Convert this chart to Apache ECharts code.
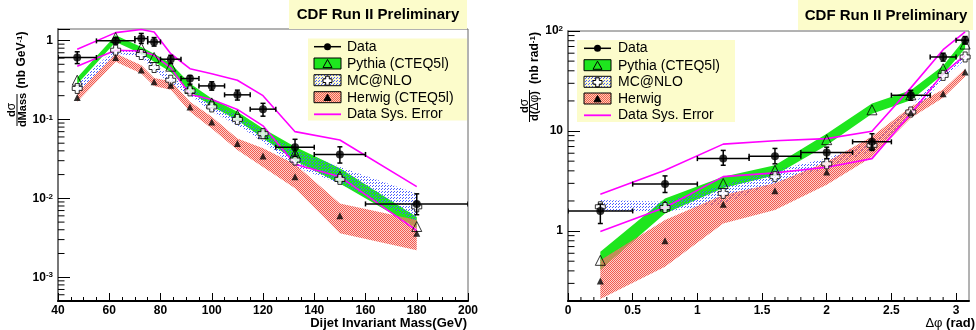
<!DOCTYPE html>
<html>
<head>
<meta charset="utf-8">
<script src="https://cdn.jsdelivr.net/npm/echarts@6/dist/echarts.min.js"></script>
<style>
  html, body { margin: 0; padding: 0; background: #fff; }
  #chart { width: 976px; height: 330px; }
</style>
</head>
<body>
<div id="chart"></div>
<script>
// ---------- Dijet invariant mass spectrum (left panel) ----------
const massBinCenters   = [47.5, 62.5, 72.5, 77.5, 84, 91.5, 100, 110, 120, 132.5, 150, 180];
const massBinLow       = [40, 55, 70, 75, 80, 88, 95, 105, 115, 125, 140, 160];
const massBinHigh      = [55, 70, 75, 80, 88, 95, 105, 115, 125, 140, 160, 200];
const massData         = [0.61, 0.99, 1.06, 0.96, 0.58, 0.33, 0.266, 0.205, 0.135, 0.0445, 0.036, 0.0085];
const massDataErrLow   = [0.51, 0.90, 0.92, 0.85, 0.51, 0.28, 0.235, 0.176, 0.11, 0.034, 0.028, 0.0062];
const massDataErrHigh  = [0.72, 1.09, 1.23, 1.09, 0.65, 0.36, 0.30, 0.235, 0.16, 0.056, 0.045, 0.0114];
const massSysHigh      = [0.776, 1.26, 1.38, 1.28, 0.68, 0.44, 0.38, 0.314, 0.2, 0.07, 0.0548, 0.0141];
const massSysLow       = [0.473, 0.754, 0.738, 0.65, 0.45, 0.207, 0.179, 0.134, 0.083, 0.027, 0.0188, 0.0039];
const massPythia       = [0.314, 1.09, 0.806, 0.61, 0.473, 0.247, 0.162, 0.113, 0.066, 0.037, 0.019, 0.0044];
const massPythiaLow    = [0.28, 0.96, 0.68, 0.54, 0.40, 0.224, 0.147, 0.098, 0.058, 0.030, 0.0154, 0.0042];
const massPythiaHigh   = [0.34, 1.17, 0.83, 0.68, 0.51, 0.286, 0.184, 0.125, 0.077, 0.045, 0.024, 0.0058];
const massMcnlo        = [0.247, 0.754, 0.665, 0.455, 0.314, 0.23, 0.144, 0.1, 0.066, 0.0306, 0.0174, 0.0078];
const massMcnloLow     = [0.213, 0.685, 0.62, 0.42, 0.286, 0.203, 0.125, 0.085, 0.052, 0.025, 0.0154, 0.0051];
const massMcnloHigh    = [0.286, 0.79, 0.72, 0.51, 0.346, 0.26, 0.16, 0.113, 0.072, 0.041, 0.025, 0.0115];
const massHerwig       = [0.19, 0.61, 0.424, 0.30, 0.272, 0.144, 0.0925, 0.0495, 0.0343, 0.0188, 0.006, 0.0036];
const massHerwigLow    = [0.167, 0.54, 0.382, 0.265, 0.237, 0.125, 0.077, 0.041, 0.025, 0.0134, 0.0036, 0.0022];
const massHerwigHigh   = [0.213, 0.685, 0.486, 0.335, 0.305, 0.167, 0.108, 0.0575, 0.043, 0.027, 0.0086, 0.0053];

// ---------- Azimuthal decorrelation (right panel) ----------
const dphiBinCenters   = [0.25, 0.75, 1.2, 1.6, 2.0, 2.35, 2.65, 2.9, 3.07];
const dphiBinLow       = [0, 0.5, 1.0, 1.4, 1.8, 2.2, 2.5, 2.8, 3.0];
const dphiBinHigh      = [0.5, 1.0, 1.4, 1.8, 2.2, 2.5, 2.8, 3.0, 3.1416];
const dphiData         = [1.59, 2.95, 5.3, 5.6, 6.1, 7.8, 22.8, 55, 81];
const dphiDataErrLow   = [1.19, 2.43, 4.55, 4.7, 5.3, 6.4, 20.3, 50, 74];
const dphiDataErrHigh  = [1.86, 3.56, 6.4, 6.7, 6.9, 9.4, 25.5, 60, 88];
const dphiSysHigh      = [2.33, 4.06, 7.4, 8.0, 8.4, 9.95, 27, 65, 98];
const dphiSysLow       = [0.99, 1.72, 3.5, 3.82, 4.35, 5.3, 14.9, 37.5, 57];
const dphiPythia       = [0.51, 1.78, 2.99, 4.06, 8.2, 16.3, 23, 42, 74];
const dphiPythiaLow    = [0.41, 1.5, 2.7, 3.62, 7.2, 14.9, 20.3, 37, 67];
const dphiPythiaHigh   = [0.62, 2.12, 3.5, 4.55, 9.4, 18.8, 25.5, 45, 84];
const dphiMcnlo        = [1.75, 1.72, 2.38, 3.5, 4.7, 7.2, 15.5, 36, 55];
const dphiMcnloLow     = [1.56, 1.56, 1.89, 3.0, 4.25, 6.4, 14, 33, 52];
const dphiMcnloHigh    = [2.04, 1.96, 2.88, 4.06, 5.3, 8.0, 17, 39, 58];
const dphiHerwig       = [0.317, 0.80, 1.85, 2.53, 3.9, 7.0, 15.3, 23.6, 38.9];
const dphiHerwigLow    = [0.21, 0.44, 1.19, 1.62, 2.9, 5.5, 13.5, 21.5, 35];
const dphiHerwigHigh   = [0.51, 1.29, 2.29, 3.0, 4.9, 8.8, 17.5, 26, 42];

// Axis ranges
const massXRange = [40, 200];
const massYRange = [5e-4, 1.4];
const dphiXRange = [0, 3.1];
const dphiYRange = [0.2, 100];

const FONT = '"Liberation Sans", Arial, Helvetica, sans-serif';
const YELLOW = '#fcfccb';
const GREEN = '#1ee61e';
const MAGENTA = '#ff00ff';

// Fill patterns for the model bands
function makePattern(size, paint) {
  const c = document.createElement('canvas');
  c.width = c.height = size;
  paint(c.getContext('2d'));
  return { image: c, repeat: 'repeat' };
}
const redHatch = makePattern(2, g => {
  g.fillStyle = '#f35a50'; g.fillRect(0, 0, 1, 1); g.fillRect(1, 1, 1, 1);
  g.fillStyle = 'rgba(250,165,155,0.5)'; g.fillRect(1, 0, 1, 1); g.fillRect(0, 1, 1, 1);
});
const blueDots = makePattern(3, g => {
  g.fillStyle = '#4a5cff'; g.fillRect(0, 0, 1, 1); g.fillRect(1, 2, 1, 1);
});

const chart = echarts.init(document.getElementById('chart'), null, { renderer: 'canvas' });

function logLabel(v) {
  const l = Math.log10(v);
  const e = Math.round(l);
  if (Math.abs(l - e) > 1e-6) return '';
  if (e === 0) return '1';
  if (e === 1) return '10';
  return '{b|10}{s|' + e + '}';
}
const supRich = {
  b: { fontSize: 12, fontWeight: 'bold', fontFamily: FONT, color: '#000', verticalAlign: 'bottom' },
  s: { fontSize: 8, fontWeight: 'bold', fontFamily: FONT, color: '#000', verticalAlign: 'top' }
};

function yLogAxis(gridIndex, range) {
  return {
    type: 'log', logBase: 10, gridIndex, min: range[0], max: range[1],
    axisLine: { show: true, onZero: false, lineStyle: { color: '#777', width: 2 } },
    axisTick: { show: true, inside: true, length: 12, lineStyle: { color: '#000', width: 1 } },
    minorTick: { show: false },
    splitLine: { show: false },
    axisLabel: {
      formatter: logLabel, margin: 5, color: '#000',
      fontSize: 12, fontWeight: 'bold', fontFamily: FONT, rich: supRich
    }
  };
}

function xValueAxis(gridIndex, range, interval, minorSplit, fmt) {
  return {
    type: 'value', gridIndex, min: range[0], max: range[1], interval,
    axisLine: { show: true, onZero: false, lineStyle: { color: '#000', width: 2 } },
    axisTick: { show: true, inside: true, length: 8, lineStyle: { color: '#000', width: 1 } },
    minorTick: { show: minorSplit > 0, splitNumber: minorSplit || 5, length: 4, lineStyle: { color: '#000', width: 1 } },
    splitLine: { show: false },
    axisLabel: {
      margin: 4, color: '#000', fontSize: 12, fontWeight: 'bold', fontFamily: FONT,
      showMaxLabel: fmt ? false : true, formatter: fmt
    }
  };
}

// Model band drawn as a single polygon through the axis scales
function bandSeries(gi, xs, lo, hi, fill, z) {
  return {
    type: 'custom', xAxisIndex: gi, yAxisIndex: gi, z, silent: true, clip: true,
    data: [[xs[0], lo[0]]],
    renderItem(params, api) {
      const pts = [];
      for (let i = 0; i < xs.length; i++) pts.push(api.coord([xs[i], hi[i]]));
      for (let i = xs.length - 1; i >= 0; i--) pts.push(api.coord([xs[i], lo[i]]));
      return { type: 'polygon', shape: { points: pts }, style: { fill, stroke: null } };
    }
  };
}

function lineSeries(gi, xs, ys, z) {
  return {
    type: 'line', xAxisIndex: gi, yAxisIndex: gi, z, silent: true, symbol: 'none',
    data: xs.map((x, i) => [x, ys[i]]),
    lineStyle: { color: MAGENTA, width: 1.6 }
  };
}

function markerSeries(gi, xs, ys, symbol, size, itemStyle, z) {
  return {
    type: 'scatter', xAxisIndex: gi, yAxisIndex: gi, z, silent: true,
    symbol, symbolSize: size, itemStyle,
    data: xs.map((x, i) => [x, ys[i]])
  };
}

// Data points with horizontal bin-width bars and vertical error bars
function errorBarSeries(gi, xs, ys, xl, xh, yl, yh, z) {
  return {
    type: 'custom', xAxisIndex: gi, yAxisIndex: gi, z, silent: true, clip: true,
    data: xs.map((x, i) => [x, ys[i], xl[i], xh[i], yl[i], yh[i]]),
    renderItem(params, api) {
      const x = api.value(0), y = api.value(1);
      const l = api.coord([api.value(2), y]);
      const r = api.coord([api.value(3), y]);
      const b = api.coord([x, api.value(4)]);
      const t = api.coord([x, api.value(5)]);
      const st = { stroke: '#000', lineWidth: 1.5 };
      const cap = 2.5;
      const seg = (x1, y1, x2, y2) => ({ type: 'line', shape: { x1, y1, x2, y2 }, style: st });
      return {
        type: 'group',
        children: [
          seg(l[0], l[1], r[0], r[1]),
          seg(l[0], l[1] - cap, l[0], l[1] + cap),
          seg(r[0], r[1] - cap, r[0], r[1] + cap),
          seg(b[0], b[1], t[0], t[1]),
          seg(b[0] - cap, b[1], b[0] + cap, b[1]),
          seg(t[0] - cap, t[1], t[0] + cap, t[1])
        ]
      };
    }
  };
}

// Minor ticks at 2..9 x 10^k on a log axis, plus optional linear minor ticks on x
function minorTickSeries(gi, xRange, yRange, xMinorStep, xMajorEvery) {
  return {
    type: 'custom', xAxisIndex: gi, yAxisIndex: gi, z: 10, silent: true,
    data: [[xRange[0], yRange[0]]],
    renderItem(params, api) {
      const st = { stroke: '#000', lineWidth: 1 };
      const children = [];
      const k0 = Math.floor(Math.log10(yRange[0]));
      const k1 = Math.ceil(Math.log10(yRange[1]));
      for (let k = k0; k <= k1; k++) {
        for (let m = 2; m <= 9; m++) {
          const v = m * Math.pow(10, k);
          if (v <= yRange[0] || v >= yRange[1]) continue;
          const p = api.coord([xRange[0], v]);
          children.push({ type: 'line', shape: { x1: p[0], y1: p[1], x2: p[0] + 6.5, y2: p[1] }, style: st });
        }
      }
      if (xMinorStep) {
        const n = Math.floor((xRange[1] - xRange[0]) / xMinorStep + 1e-9);
        for (let i = 1; i < n; i++) {
          if (i % xMajorEvery === 0) continue;
          const p = api.coord([xRange[0] + i * xMinorStep, yRange[0]]);
          children.push({ type: 'line', shape: { x1: p[0], y1: p[1], x2: p[0], y2: p[1] - 4 }, style: st });
        }
      }
      return { type: 'group', children };
    }
  };
}

const openCross = 'path://M3,0 L7,0 L7,3 L10,3 L10,7 L7,7 L7,10 L3,10 L3,7 L0,7 L0,3 L3,3 Z';
const openTri = { color: 'rgba(0,0,0,0)', borderColor: '#000', borderWidth: 1 };
const crossStyle = { color: '#fff', borderColor: '#000', borderWidth: 1 };

function panelSeries(gi, s) {
  return [
    bandSeries(gi, s.x, s.pyLo, s.pyHi, GREEN, 1),
    bandSeries(gi, s.x, s.mcLo, s.mcHi, blueDots, 2),
    bandSeries(gi, s.x, s.hwLo, s.hwHi, redHatch, 3),
    lineSeries(gi, s.x, s.sysHi, 4),
    lineSeries(gi, s.x, s.sysLo, 4),
    markerSeries(gi, s.x, s.py, 'triangle', 10, openTri, 5),
    markerSeries(gi, s.x, s.mc, openCross, 10, crossStyle, 5),
    markerSeries(gi, s.x, s.hw, 'triangle', 7, { color: '#000' }, 5),
    errorBarSeries(gi, s.x, s.data, s.xl, s.xh, s.el, s.eh, 6),
    markerSeries(gi, s.x, s.data, 'circle', 8, { color: '#000' }, 7)
  ];
}

const series = [
  ...panelSeries(0, {
    x: massBinCenters, xl: massBinLow, xh: massBinHigh,
    data: massData, el: massDataErrLow, eh: massDataErrHigh,
    sysHi: massSysHigh, sysLo: massSysLow,
    py: massPythia, pyLo: massPythiaLow, pyHi: massPythiaHigh,
    mc: massMcnlo, mcLo: massMcnloLow, mcHi: massMcnloHigh,
    hw: massHerwig, hwLo: massHerwigLow, hwHi: massHerwigHigh
  }),
  ...panelSeries(1, {
    x: dphiBinCenters, xl: dphiBinLow, xh: dphiBinHigh,
    data: dphiData, el: dphiDataErrLow, eh: dphiDataErrHigh,
    sysHi: dphiSysHigh, sysLo: dphiSysLow,
    py: dphiPythia, pyLo: dphiPythiaLow, pyHi: dphiPythiaHigh,
    mc: dphiMcnlo, mcLo: dphiMcnloLow, mcHi: dphiMcnloHigh,
    hw: dphiHerwig, hwLo: dphiHerwigLow, hwHi: dphiHerwigHigh
  }),
  minorTickSeries(0, massXRange, massYRange, 0, 1),
  minorTickSeries(1, dphiXRange, dphiYRange, 0.1, 5)
];

// ---------- Annotations: titles, legends, axis titles ----------
const G = [];
function txt(x, y, text, opts) {
  G.push(Object.assign({
    type: 'text', x, y, silent: true, z: 100,
    style: Object.assign({
      text, fill: '#000', fontFamily: FONT, fontSize: 12, fontWeight: 'bold',
      align: 'center', verticalAlign: 'middle'
    }, opts && opts.style)
  }, opts && opts.el));
}
function rect(x, y, w, h, fill, stroke) {
  G.push({ type: 'rect', silent: true, z: 90, shape: { x, y, width: w, height: h },
    style: { fill, stroke: stroke || null, lineWidth: 1 } });
}
function seg(x1, y1, x2, y2, stroke, w) {
  G.push({ type: 'line', silent: true, z: 95, shape: { x1, y1, x2, y2 }, style: { stroke, lineWidth: w } });
}
function tri(cx, cy, r, fill) {
  G.push({ type: 'polygon', silent: true, z: 96,
    shape: { points: [[cx, cy - r], [cx + r, cy + r * 0.8], [cx - r, cy + r * 0.8]] },
    style: { fill, stroke: '#000', lineWidth: 1 } });
}
function cross(cx, cy, r) {
  const a = r * 0.4;
  G.push({ type: 'polygon', silent: true, z: 96,
    shape: { points: [[cx - a, cy - r], [cx + a, cy - r], [cx + a, cy - a], [cx + r, cy - a], [cx + r, cy + a],
      [cx + a, cy + a], [cx + a, cy + r], [cx - a, cy + r], [cx - a, cy + a], [cx - r, cy + a], [cx - r, cy - a], [cx - a, cy - a]] },
    style: { fill: '#fff', stroke: '#000', lineWidth: 1 } });
}

// Title boxes
rect(289, 0, 178, 29, YELLOW);
txt(378, 15, 'CDF Run II Preliminary', { style: { fontSize: 15 } });
rect(798, 0, 175, 30, YELLOW);
txt(886, 15.5, 'CDF Run II Preliminary', { style: { fontSize: 15 } });

// Legends
function legend(bx, by, bw, bh, sx0, sx1, tx, rows, lastLabel) {
  rect(bx, by, bw, bh, YELLOW);
  const sc = (sx0 + sx1) / 2;
  const labels = ['Data', 'Pythia (CTEQ5l)', 'MC@NLO', lastLabel, 'Data Sys. Error'];
  // Data
  seg(sx0, rows[0], sx1, rows[0], '#000', 1.5);
  G.push({ type: 'circle', silent: true, z: 96, shape: { cx: sc, cy: rows[0], r: 3.5 }, style: { fill: '#000' } });
  // Pythia
  G.push({ type: 'rect', silent: true, z: 95, shape: { x: sx0, y: rows[1] - 6, width: sx1 - sx0, height: 11 },
    style: { fill: GREEN, stroke: '#000', lineWidth: 1 } });
  tri(sc, rows[1], 4.5, 'rgba(0,0,0,0)');
  // MC@NLO
  G.push({ type: 'rect', silent: true, z: 95, shape: { x: sx0, y: rows[2] - 6, width: sx1 - sx0, height: 11 },
    style: { fill: blueDots, stroke: '#000', lineWidth: 1 } });
  cross(sc, rows[2], 4.5);
  // Herwig
  G.push({ type: 'rect', silent: true, z: 95, shape: { x: sx0, y: rows[3] - 6, width: sx1 - sx0, height: 11 },
    style: { fill: redHatch, stroke: '#000', lineWidth: 1 } });
  tri(sc, rows[3], 3.5, '#000');
  // Systematics
  seg(sx0, rows[4], sx1, rows[4], MAGENTA, 1.8);
  labels.forEach((t, i) => txt(tx, rows[i], t, { style: { fontSize: 14, fontWeight: 'normal', align: 'left' } }));
}
legend(308, 38.5, 159, 82, 314, 341, 347, [46.7, 64, 80.7, 97.7, 114.3], 'Herwig (CTEQ5l)');
legend(577, 40, 158, 82, 584, 611, 618, [48.3, 65.7, 82.3, 99, 115.3], 'Herwig');

// Y-axis titles (rotated, fraction form)
const supTitle = { s: { fontSize: 8, fontWeight: 'bold', fontFamily: FONT, verticalAlign: 'top', fill: '#000' },
                   n: { fontSize: 12, fontWeight: 'bold', fontFamily: FONT, verticalAlign: 'bottom', fill: '#000' },
                   g: { fontSize: 12, fontWeight: 'normal', fontFamily: FONT, fill: '#000' },
                   d: { fontSize: 11, fontWeight: 'bold', fontFamily: FONT, fill: '#000' } };
const ROT = Math.PI / 2;
txt(22, 60, '{n|(nb GeV}{s|-1}{n|)}', { el: { rotation: ROT }, style: { rich: supTitle } });
txt(22.5, 110, 'dMass', { el: { rotation: ROT }, style: { fontSize: 11 } });
txt(12, 110, '{d|d}{g|σ}', { el: { rotation: ROT }, style: { rich: supTitle } });
seg(17, 94, 17, 126, '#000', 1);

txt(534.5, 58, '{n|(nb rad}{s|-1}{n|)}', { el: { rotation: ROT }, style: { rich: supTitle } });
txt(535, 106, '{d|d(}{g|Δφ}{d|)}', { el: { rotation: ROT }, style: { rich: supTitle } });
txt(524.5, 106, '{d|d}{g|σ}', { el: { rotation: ROT }, style: { rich: supTitle } });
seg(529.5, 90, 529.5, 122, '#000', 1);

// X-axis titles
txt(467, 323, 'Dijet Invariant Mass(GeV)', { style: { fontSize: 13, align: 'right' } });
txt(975, 323, '{g|Δφ }{b|(rad)}', { style: { align: 'right', rich: {
  g: { fontSize: 13, fontWeight: 'normal', fontFamily: FONT, fill: '#000' },
  b: { fontSize: 13, fontWeight: 'bold', fontFamily: FONT, fill: '#000' } } } });

const halfStepLabel = v => (Math.abs(v * 2 - Math.round(v * 2)) < 1e-6 ? String(Math.round(v * 2) / 2) : '');

chart.setOption({
  animation: false,
  backgroundColor: '#fff',
  grid: [
    { left: 58, top: 29, width: 410, height: 272, show: true, borderColor: '#666', borderWidth: 1, backgroundColor: 'transparent' },
    { left: 568, top: 31, width: 401, height: 270, show: true, borderColor: '#666', borderWidth: 1, backgroundColor: 'transparent' }
  ],
  xAxis: [
    xValueAxis(0, massXRange, 20, 4, null),
    xValueAxis(1, dphiXRange, 0.5, 0, halfStepLabel)
  ],
  yAxis: [
    yLogAxis(0, massYRange),
    yLogAxis(1, dphiYRange)
  ],
  series,
  graphic: G
});
</script>
</body>
</html>
